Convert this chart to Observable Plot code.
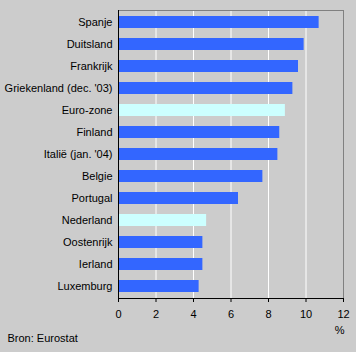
<!DOCTYPE html>
<html>
<head>
<meta charset="utf-8">
<script src="https://cdn.jsdelivr.net/npm/d3@7"></script>
<script src="https://cdn.jsdelivr.net/npm/@observablehq/plot@0.6"></script>
<style>
  html, body { margin: 0; padding: 0; background: #cccccc; }
  #chart svg { display: block; }
</style>
</head>
<body>
<div id="chart"></div>
<script>
const countries = ["Spanje", "Duitsland", "Frankrijk", "Griekenland (dec. '03)", "Euro-zone", "Finland", "Italië (jan. '04)", "Belgie", "Portugal", "Nederland", "Oostenrijk", "Ierland", "Luxemburg"];
const values = [10.7, 9.9, 9.6, 9.3, 8.9, 8.6, 8.5, 7.7, 6.4, 4.7, 4.5, 4.5, 4.3];
const highlighted = ["Euro-zone", "Nederland"];
const xTicks = [0, 2, 4, 6, 8, 10, 12];
const gridTicks = [2, 4, 6, 8, 10];
const unitLabel = ["%"];
const source = ["Bron: Eurostat"];

const data = countries.map((c, i) => ({country: c, value: values[i], hl: highlighted.includes(c)}));

const chart = Plot.plot({
  width: 356,
  height: 352,
  marginLeft: 118,
  marginRight: 13,
  marginTop: 10,
  marginBottom: 54,
  style: {background: "#cccccc", fontFamily: "Liberation Sans, Arial, sans-serif", fontSize: "11px", color: "black"},
  x: {domain: [0, 12], axis: null},
  y: {domain: countries, paddingInner: 0.47, paddingOuter: 0.24, axis: null},
  marks: [
    Plot.gridX(gridTicks, {stroke: "white", strokeOpacity: 1, strokeWidth: 1}),
    Plot.barX(data, {x: "value", y: "country", fill: d => d.hl ? "#ccffff" : "#3366ff"}),
    Plot.frame({stroke: "#808080"}),
    Plot.frame({anchor: "left", stroke: "black"}),
    Plot.frame({anchor: "bottom", stroke: "black"}),
    Plot.axisY({tickSize: 0, tickPadding: 6, fontSize: 11, fill: "black", label: null}),
    Plot.axisX(xTicks, {tickSize: 4, tickPadding: 8, fontSize: 11, fill: "black", stroke: "black", label: null, tickFormat: d => String(d)}),
    Plot.text(unitLabel, {frameAnchor: "bottom-right", text: d => d, dx: 1, dy: 35, fontSize: 11, fill: "black"}),
    Plot.text(source, {frameAnchor: "bottom-left", text: d => d, textAnchor: "start", dx: -111, dy: 43, fontSize: 11, fill: "black"})
  ]
});
document.getElementById("chart").appendChild(chart);
</script>
</body>
</html>
